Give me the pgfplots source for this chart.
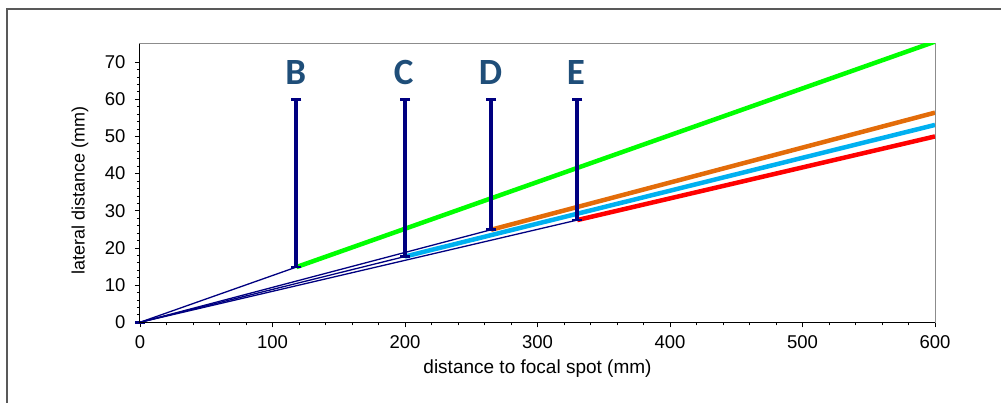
\documentclass[border=0pt]{standalone}
\usepackage{pgfplots}
\pgfplotsset{compat=1.18}
\usepackage{fontspec}
\setmainfont{Liberation Sans}
\newfontfamily\calibri{Carlito}
\definecolor{cgreen}{HTML}{00FF00}
\definecolor{corange}{HTML}{E36C09}
\definecolor{ccyan}{HTML}{00B0F0}
\definecolor{cred}{HTML}{FF0000}
\definecolor{cnavy}{HTML}{000080}
\definecolor{cletter}{HTML}{1F4E79}
\begin{document}
\begin{tikzpicture}
\path[use as bounding box] (-140pt,-80.7pt) rectangle (861pt,322.3pt);
\draw[color=black!65, line width=1.2pt] (-133pt,-81pt) -- (-133pt,313.3pt) -- (862pt,313.3pt);
\begin{axis}[
  at={(0,0)}, anchor=south west,
  scale only axis, width=795pt, height=278.8pt,
  xmin=0, xmax=600, ymin=0, ymax=75,
  xtick={0,100,...,600}, ytick={0,10,...,70},
  minor x tick num=4, minor y tick num=4,
  xtick pos=left, ytick pos=left,
  tick align=outside,
  major tick length=5pt, minor tick length=3pt,
  tick style={black, line width=0.8pt},
  axis line style={draw=black!45, line width=1pt},
  /pgf/number format/assume math mode=true,
  tick label style={font=\fontsize{18.5}{22}\selectfont},
  xticklabel style={yshift=-5pt},
  yticklabel style={xshift=-6pt},
  xlabel={distance to focal spot (mm)},
  ylabel={lateral distance (mm)},
  xlabel style={font=\fontsize{19}{22}\selectfont, at={(axis description cs:0.5,-0.1675)}, anchor=center},
  ylabel style={font=\fontsize{18}{22}\selectfont, at={(axis description cs:-0.0755,0.473)}, anchor=center},
  clip mode=individual,
]
% coloured rays beyond the planes
\addplot[cgreen, line width=4.5pt] coordinates {(118,14.85) (600,75.5)};
\addplot[corange, line width=4.5pt] coordinates {(265,24.9) (600,56.4)};
\addplot[ccyan, line width=4.5pt] coordinates {(200,17.7) (600,53.1)};
\addplot[cred, line width=4.5pt] coordinates {(330,27.5) (600,50.0)};
% thin rays from the focal spot
\addplot[cnavy, line width=1.3pt] coordinates {(0,0) (118,14.85)};
\addplot[cnavy, line width=1.3pt] coordinates {(0,0) (200,17.7)};
\addplot[cnavy, line width=1.3pt] coordinates {(0,0) (265,24.9)};
\addplot[cnavy, line width=1.3pt] coordinates {(0,0) (330,27.5)};
% vertical planes
\addplot[cnavy, line width=4pt, mark=-, mark size=5pt, mark options={line width=2.5pt}] coordinates {(118,14.85) (118,60)};
\addplot[cnavy, line width=4pt, mark=-, mark size=5pt, mark options={line width=2.5pt}] coordinates {(200,17.7) (200,60)};
\addplot[cnavy, line width=4pt, mark=-, mark size=5pt, mark options={line width=2.5pt}] coordinates {(265,24.9) (265,60)};
\addplot[cnavy, line width=4pt, mark=-, mark size=5pt, mark options={line width=2.5pt}] coordinates {(330,27.5) (330,60)};
\addplot[cnavy, only marks, mark=-, mark size=5pt, mark options={line width=3pt}] coordinates {(0,0)};
\draw[black, line width=1pt] (rel axis cs:0,1) -- (rel axis cs:0,0) -- (rel axis cs:1,0);
\node[anchor=base, text=cletter, font=\calibri\bfseries\fontsize{37}{40}\selectfont] at (axis cs:117.5,64.1) {B};
\node[anchor=base, text=cletter, font=\calibri\bfseries\fontsize{37}{40}\selectfont] at (axis cs:199,64.1) {C};
\node[anchor=base, text=cletter, font=\calibri\bfseries\fontsize{37}{40}\selectfont] at (axis cs:264.5,64.1) {D};
\node[anchor=base, text=cletter, font=\calibri\bfseries\fontsize{37}{40}\selectfont] at (axis cs:329,64.1) {E};
\end{axis}
\end{tikzpicture}
\end{document}
